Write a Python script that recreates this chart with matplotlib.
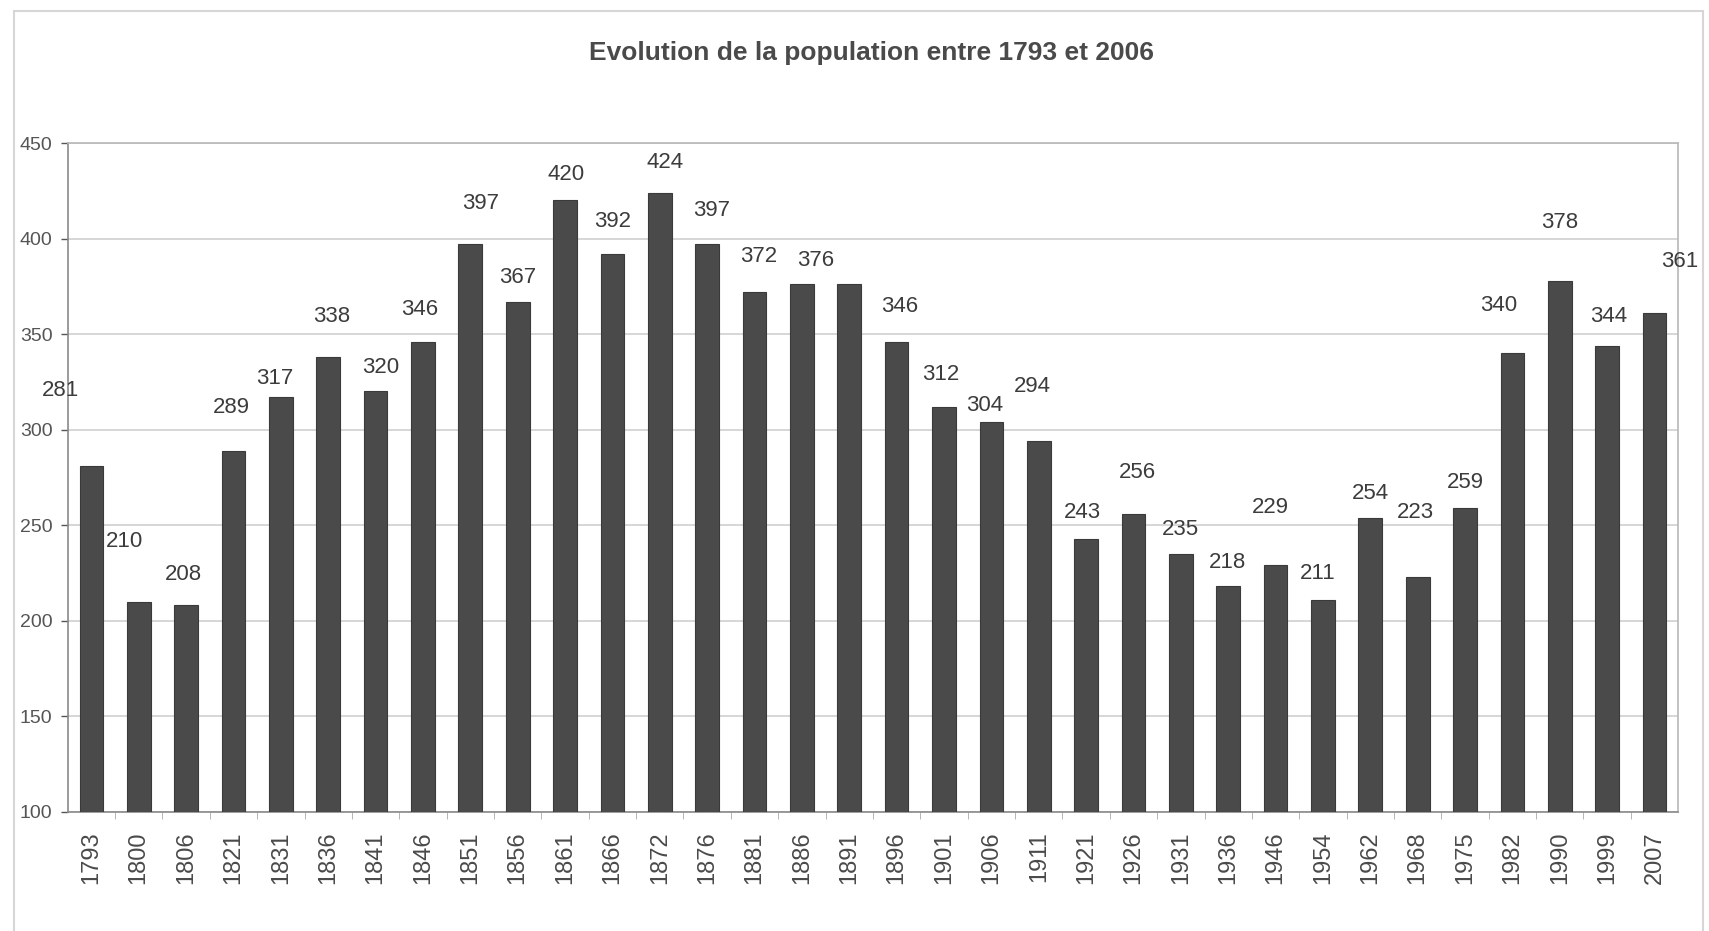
import matplotlib
matplotlib.use("Agg")
import matplotlib.pyplot as plt
from matplotlib.patches import Rectangle

years = ["1793", "1800", "1806", "1821", "1831", "1836", "1841", "1846", "1851", "1856",
         "1861", "1866", "1872", "1876", "1881", "1886", "1891", "1896", "1901", "1906",
         "1911", "1921", "1926", "1931", "1936", "1946", "1954", "1962", "1968", "1975",
         "1982", "1990", "1999", "2007"]
population = [281, 210, 208, 289, 317, 338, 320, 346, 397, 367,
              420, 392, 424, 397, 372, 376, 376, 346, 312, 304,
              294, 243, 256, 235, 218, 229, 211, 254, 223, 259,
              340, 378, 344, 361]
# which bars show a value label (one label is hidden in the reference)
show_label = [True] * 16 + [False] + [True] * 17
# label offsets relative to bar top (dx, dy) in pixels of the reference
label_dx = [-28, -13, -2, -2, -6, 3, 5, -3, 9, 0, 1, 0, 5, 4, 4, 13, 0, 3, -3, -6,
            -6, -3, 4, 0, -1, -5, -5, 0, -2, 0, -13, 0, 1, 23]
label_dy = [69, 55, 28, 40, 17, 37, 22, 30, 37, 22, 24, 30, 28, 31, 33, 22, 22, 32, 30, 15,
            50, 24, 38, 22, 22, 53, 24, 22, 59, 23, 44, 53, 27, 47]

title = "Evolution de la population entre 1793 et 2006"

plt.rcParams['font.family'] = ['Liberation Sans', 'DejaVu Sans']

fig = plt.figure(figsize=(17.09, 9.31), dpi=100)
fig.patch.set_facecolor("white")
ax = fig.add_axes([0.0396, 0.128, 0.9424, 0.7184])

x = list(range(len(years)))
ax.bar(x, population, width=0.5, bottom=0, color="#4a4a4a", edgecolor="#3a3a3a",
       linewidth=0.8, zorder=3)

ax.set_ylim(100, 450)
ax.set_xlim(-0.5, len(years) - 0.5)
ax.set_yticks(range(100, 451, 50))
ax.yaxis.grid(True, color="#cfcfcf", linewidth=1.2, zorder=0)
ax.set_xticks(x)
ax.set_xticklabels(years, rotation=90, fontsize=17, color="#4a4a4a")
ax.tick_params(axis="x", length=0, pad=14)
ax.tick_params(axis="y", labelsize=14, colors="#555555", length=5, width=1, pad=6)
ax.set_xticks([i + 0.5 for i in x[:-1]], minor=True)
ax.tick_params(axis="x", which="minor", length=5, color="#aaaaaa")
for s in ax.spines.values():
    s.set_color("#b8b8b8")
    s.set_linewidth(1.2)
ax.spines["left"].set_color("#8a8a8a")
ax.spines["bottom"].set_color("#8a8a8a")

px2pt = 1.09 * 0.72
for i, v in enumerate(population):
    if show_label[i]:
        ax.annotate(str(v), (i, v), xytext=(label_dx[i] * px2pt, label_dy[i] * px2pt),
                    textcoords="offset points", ha="center", va="center",
                    fontsize=16, color="#3c3c3c", zorder=4, annotation_clip=False)

fig.text(0.51, 0.943, title, ha="center", va="center", fontsize=19,
         fontweight="bold", color="#4a4a4a")

fig.patches.append(Rectangle((14 / 1709, -10 / 931), (1703 - 14) / 1709, (920 + 10) / 931,
                             transform=fig.transFigure, fill=False,
                             edgecolor="#d6d6d6", linewidth=1.5))

fig.savefig("out.png", dpi=100)
